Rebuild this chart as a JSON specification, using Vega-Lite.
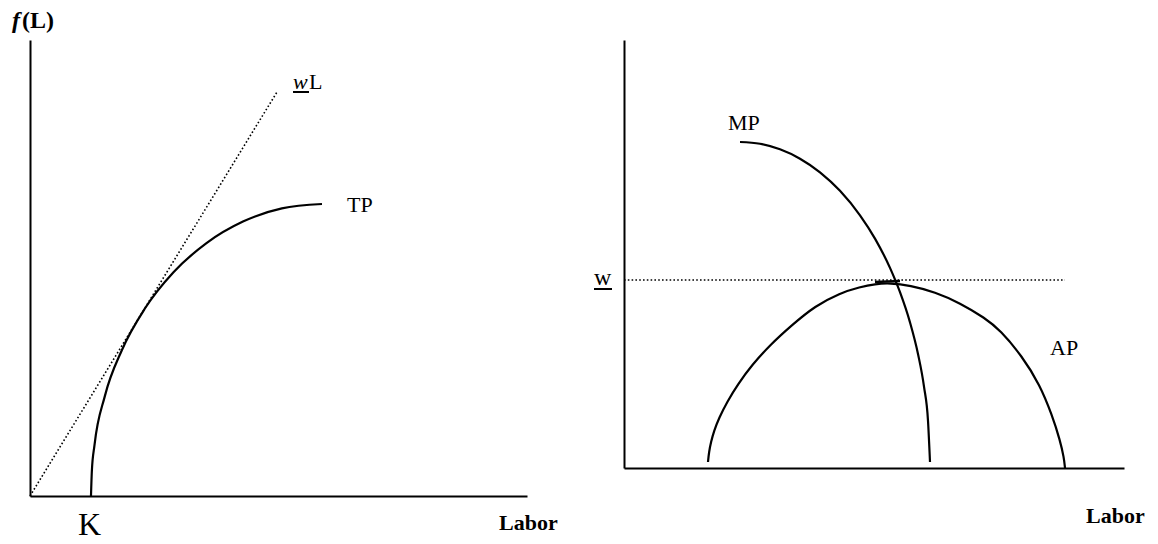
{
  "$schema": "https://vega.github.io/schema/vega-lite/v6.json",
  "padding": {"left": 12, "top": 9, "right": 0, "bottom": 0},
  "background": "white",
  "bounds": "flush",
  "spacing": 97,
  "config": {"view": {"stroke": null}, "font": "Liberation Serif"},
  "hconcat": [
    {
      "width": 497,
      "height": 456,
      "encoding": {
        "x": {"field": "x", "type": "quantitative", "scale": {"domain": [0, 10], "nice": false, "zero": false},
              "axis": {"title": null, "ticks": false, "labels": false, "grid": false, "domainColor": "black", "domainWidth": 2}},
        "y": {"field": "y", "type": "quantitative", "scale": {"domain": [0, 10], "nice": false, "zero": false},
              "axis": {"title": null, "ticks": false, "labels": false, "grid": false, "domainColor": "black", "domainWidth": 2}}
      },
      "layer": [
        {
          "data": {"values": [
            {"x": 1.227, "y": 0}, {"x": 1.245, "y": 0.558}, {"x": 1.297, "y": 1.112}, {"x": 1.506, "y": 2.19},
            {"x": 1.85, "y": 3.202}, {"x": 2.315, "y": 4.117}, {"x": 2.887, "y": 4.906}, {"x": 3.551, "y": 5.546},
            {"x": 4.285, "y": 6.018}, {"x": 5.068, "y": 6.307}, {"x": 5.875, "y": 6.404}
          ]},
          "mark": {"type": "line", "interpolate": "monotone", "color": "black", "strokeWidth": 2.2}
        },
        {
          "data": {"values": [{"x": 0, "y": 0}, {"x": 4.97, "y": 8.86}]},
          "mark": {"type": "line", "color": "black", "strokeWidth": 1.6, "strokeDash": [1.6, 2.2]}
        },
        {
          "data": {"values": [{"label": "TP", "x": 6.378, "y": 6.228}, {"label": "L", "x": 5.614, "y": 8.925}]},
          "mark": {"type": "text", "align": "left", "baseline": "alphabetic", "fontSize": 22, "color": "black"},
          "encoding": {"text": {"field": "label"}}
        },
        {
          "data": {"values": [{"label": "K", "x": 0.966, "y": -0.855}]},
          "mark": {"type": "text", "align": "left", "baseline": "alphabetic", "fontSize": 32, "color": "black"},
          "encoding": {"text": {"field": "label"}}
        },
        {
          "data": {"values": [{"label": "w", "x": 5.292, "y": 8.925}]},
          "mark": {"type": "text", "align": "left", "baseline": "alphabetic", "fontSize": 22, "fontStyle": "italic", "color": "black"},
          "encoding": {"text": {"field": "label"}}
        },
        {
          "data": {"values": [{"x": 5.292, "x2": 5.614, "y": 8.86}]},
          "mark": {"type": "rule", "color": "black", "strokeWidth": 2},
          "encoding": {"x2": {"field": "x2"}}
        },
        {
          "data": {"values": [{"label": "Labor", "x": 9.437, "y": -0.746}]},
          "mark": {"type": "text", "align": "left", "baseline": "alphabetic", "fontSize": 22, "fontWeight": "bold", "color": "black"},
          "encoding": {"text": {"field": "label"}}
        },
        {
          "data": {"values": [{"label": "(L)", "x": -0.161, "y": 10.263}]},
          "mark": {"type": "text", "align": "left", "baseline": "alphabetic", "fontSize": 24, "fontWeight": "bold", "color": "black"},
          "encoding": {"text": {"field": "label"}}
        },
        {
          "data": {"values": [{"label": "f", "x": -0.362, "y": 10.263}]},
          "mark": {"type": "text", "align": "left", "baseline": "alphabetic", "fontSize": 24, "fontWeight": "bold", "fontStyle": "italic", "color": "black"},
          "encoding": {"text": {"field": "label"}}
        }
      ]
    },
    {
      "width": 500,
      "height": 428,
      "encoding": {
        "x": {"field": "x", "type": "quantitative", "scale": {"domain": [0, 10], "nice": false, "zero": false},
              "axis": {"title": null, "ticks": false, "labels": false, "grid": false, "domainColor": "black", "domainWidth": 2}},
        "y": {"field": "y", "type": "quantitative", "scale": {"domain": [0, 10], "nice": false, "zero": false},
              "axis": {"title": null, "ticks": false, "labels": false, "grid": false, "domainColor": "black", "domainWidth": 2}}
      },
      "layer": [
        {
          "data": {"values": [{"x": 0, "y": 4.393}, {"x": 8.82, "y": 4.393}]},
          "mark": {"type": "line", "color": "black", "strokeWidth": 1.6, "strokeDash": [1.6, 2.2]}
        },
        {
          "data": {"values": [
            {"x": 2.32, "y": 7.617}, {"x": 2.72, "y": 7.575}, {"x": 3.12, "y": 7.446}, {"x": 3.52, "y": 7.227},
            {"x": 3.92, "y": 6.909}, {"x": 4.32, "y": 6.477}, {"x": 4.72, "y": 5.904}, {"x": 5.02, "y": 5.36},
            {"x": 5.32, "y": 4.675}, {"x": 5.52, "y": 4.107}, {"x": 5.72, "y": 3.402}, {"x": 5.88, "y": 2.664},
            {"x": 6.0, "y": 1.9}, {"x": 6.08, "y": 1.103}, {"x": 6.12, "y": 0.14}
          ]},
          "mark": {"type": "line", "interpolate": "monotone", "color": "black", "strokeWidth": 2.2}
        },
        {
          "data": {"values": [
            {"x": 1.68, "y": 0.14}, {"x": 1.7, "y": 0.374}, {"x": 1.74, "y": 0.607}, {"x": 1.8, "y": 0.864},
            {"x": 1.9, "y": 1.168}, {"x": 2.06, "y": 1.542}, {"x": 2.28, "y": 1.963}, {"x": 2.56, "y": 2.407},
            {"x": 2.92, "y": 2.874}, {"x": 3.36, "y": 3.341}, {"x": 3.82, "y": 3.785}, {"x": 4.32, "y": 4.089},
            {"x": 4.72, "y": 4.229}, {"x": 5.02, "y": 4.299}, {"x": 5.32, "y": 4.322}, {"x": 5.72, "y": 4.264},
            {"x": 6.22, "y": 4.112}, {"x": 6.72, "y": 3.855}, {"x": 7.22, "y": 3.505}, {"x": 7.52, "y": 3.224},
            {"x": 7.96, "y": 2.617}, {"x": 8.32, "y": 1.939}, {"x": 8.56, "y": 1.238}, {"x": 8.72, "y": 0.654},
            {"x": 8.8, "y": 0.234}, {"x": 8.82, "y": 0}
          ]},
          "mark": {"type": "line", "interpolate": "basis", "color": "black", "strokeWidth": 2.2}
        },
        {
          "data": {"values": [{"x": 5.02, "y": 4.346}, {"x": 5.52, "y": 4.369}]},
          "mark": {"type": "line", "color": "black", "strokeWidth": 2.6}
        },
        {
          "data": {"values": [{"label": "MP", "x": 2.08, "y": 7.897}, {"label": "AP", "x": 8.52, "y": 2.64}]},
          "mark": {"type": "text", "align": "left", "baseline": "alphabetic", "fontSize": 22, "color": "black"},
          "encoding": {"text": {"field": "label"}}
        },
        {
          "data": {"values": [{"label": "w", "x": -0.6, "y": 4.276}]},
          "mark": {"type": "text", "align": "left", "baseline": "alphabetic", "fontSize": 24, "color": "black"},
          "encoding": {"text": {"field": "label"}}
        },
        {
          "data": {"values": [{"x": -0.6, "x2": -0.24, "y": 4.182}]},
          "mark": {"type": "rule", "color": "black", "strokeWidth": 2},
          "encoding": {"x2": {"field": "x2"}}
        },
        {
          "data": {"values": [{"label": "Labor", "x": 9.24, "y": -1.285}]},
          "mark": {"type": "text", "align": "left", "baseline": "alphabetic", "fontSize": 22, "fontWeight": "bold", "color": "black"},
          "encoding": {"text": {"field": "label"}}
        }
      ]
    }
  ]
}
